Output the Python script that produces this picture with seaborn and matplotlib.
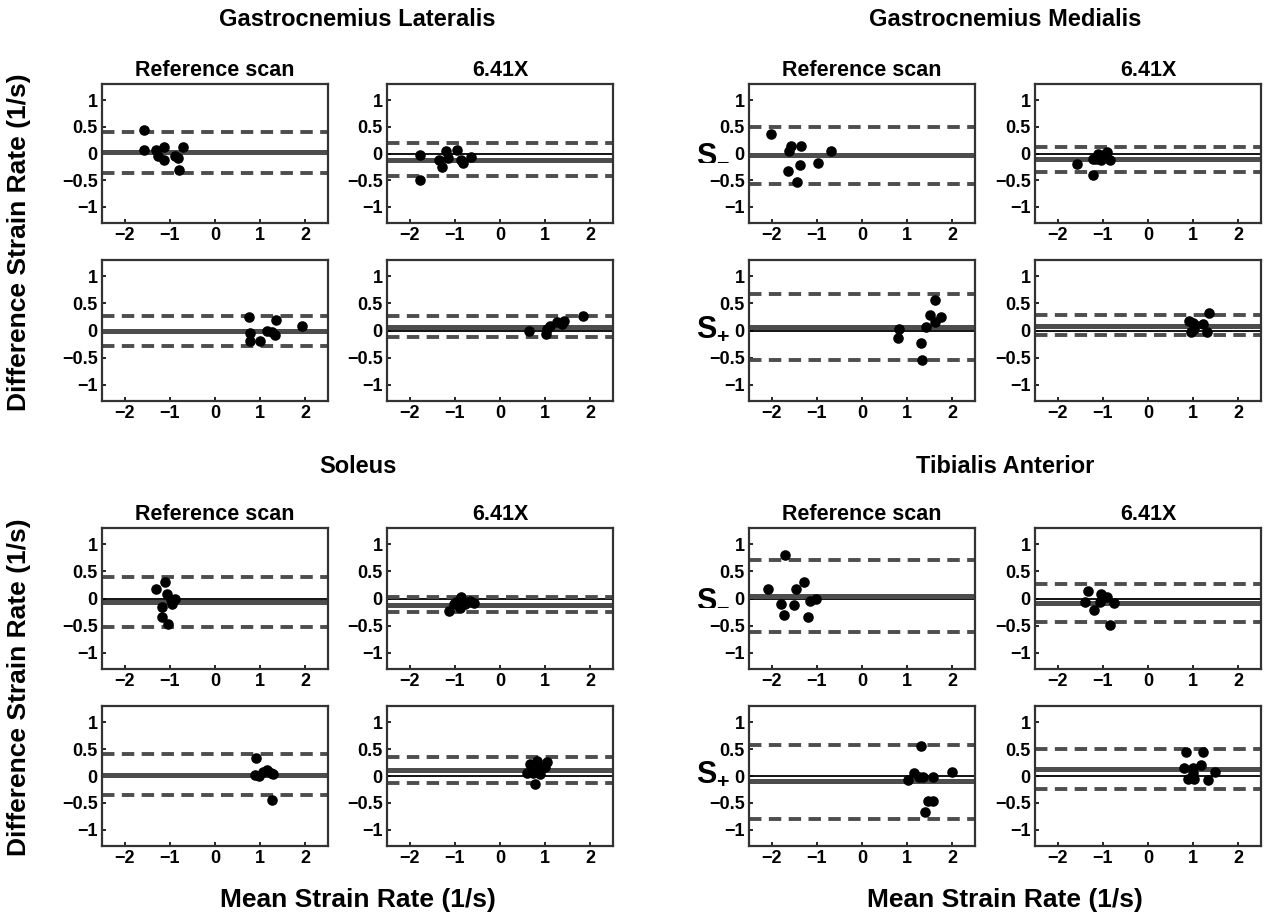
import numpy as np
import pandas as pd
import matplotlib
matplotlib.use("Agg")
import matplotlib.pyplot as plt
import seaborn as sns

# ---------------- data ----------------
muscles = ["Gastrocnemius Lateralis", "Gastrocnemius Medialis", "Soleus", "Tibialis Anterior"]
methods = ["Reference scan", "6.41X"]
signs = ["S-", "S+"]
x_ticks = [-2, -1, 0, 1, 2]
x_tick_labels = ["\u22122", "\u22121", "0", "1", "2"]
y_ticks = [-1, -0.5, 0, 0.5, 1]
y_tick_labels = ["\u22121", "\u22120.5", "0", "0.5", "1"]

# Gastrocnemius Lateralis
gl_ref_neg_x = [-1.56, -1.56, -1.30, -1.13, -1.26, -1.13, -0.89, -0.81, -0.70, -0.79]
gl_ref_neg_y = [0.44, 0.06, 0.07, 0.12, -0.04, -0.13, -0.04, -0.08, 0.12, -0.31]
gl_x_neg_x = [-1.76, -1.78, -1.36, -1.28, -1.20, -1.14, -0.96, -0.87, -0.81, -0.65]
gl_x_neg_y = [-0.02, -0.49, -0.12, -0.25, 0.05, -0.09, 0.07, -0.12, -0.17, -0.06]
gl_ref_pos_x = [0.76, 0.77, 0.77, 0.99, 1.14, 1.27, 1.33, 1.36, 1.93]
gl_ref_pos_y = [0.25, -0.04, -0.19, -0.19, 0.00, -0.03, -0.09, 0.19, 0.09]
gl_x_pos_x = [0.65, 1.01, 1.05, 1.11, 1.27, 1.37, 1.42, 1.83]
gl_x_pos_y = [0.00, -0.06, 0.02, 0.08, 0.15, 0.12, 0.17, 0.27]
gl_mean = [0.02, -0.12, 0.00, 0.07]
gl_upper = [0.41, 0.19, 0.27, 0.27]
gl_lower = [-0.37, -0.43, -0.28, -0.12]

# Gastrocnemius Medialis
gm_ref_neg_x = [-2.01, -1.62, -1.57, -1.36, -1.63, -1.38, -1.43, -0.98, -0.68]
gm_ref_neg_y = [0.37, 0.05, 0.14, 0.14, -0.32, -0.21, -0.53, -0.18, 0.05]
gm_x_neg_x = [-1.56, -1.22, -1.22, -1.11, -1.04, -0.99, -0.91, -0.85, -1.15]
gm_x_neg_y = [-0.20, -0.41, -0.10, -0.01, -0.12, -0.03, 0.03, -0.12, -0.10]
gm_ref_pos_x = [0.82, 0.80, 1.30, 1.33, 1.41, 1.50, 1.61, 1.62, 1.74]
gm_ref_pos_y = [0.03, -0.14, -0.23, -0.54, 0.06, 0.28, 0.56, 0.15, 0.25]
gm_x_pos_x = [0.91, 0.99, 1.05, 0.96, 1.21, 1.30, 1.34, 1.02]
gm_x_pos_y = [0.17, 0.14, 0.10, -0.02, 0.12, -0.03, 0.32, 0.03]
gm_mean = [-0.03, -0.11, 0.07, 0.09]
gm_upper = [0.50, 0.12, 0.68, 0.29]
gm_lower = [-0.57, -0.35, -0.54, -0.09]

# Soleus
so_ref_neg_x = [-1.30, -1.10, -1.06, -0.89, -0.95, -1.17, -0.98, -1.18, -1.04]
so_ref_neg_y = [0.18, 0.31, 0.08, 0.00, -0.10, -0.15, -0.03, -0.35, -0.47]
so_x_neg_x = [-1.12, -0.97, -0.86, -0.89, -0.78, -1.02, -0.67, -0.57, -0.86]
so_x_neg_y = [-0.23, -0.07, 0.03, -0.17, -0.10, -0.10, -0.04, -0.09, -0.12]
so_ref_pos_x = [0.90, 0.88, 0.98, 1.07, 1.16, 1.24, 1.29, 1.27]
so_ref_pos_y = [0.34, 0.01, 0.00, 0.07, 0.11, 0.05, 0.03, -0.45]
so_x_pos_x = [0.60, 0.67, 0.82, 0.78, 0.88, 1.00, 1.04, 0.86, 0.72]
so_x_pos_y = [0.06, 0.22, 0.27, -0.14, 0.04, 0.17, 0.26, 0.15, 0.06]
so_mean = [-0.06, -0.12, 0.025, 0.11]
so_upper = [0.39, 0.035, 0.40, 0.36]
so_lower = [-0.52, -0.25, -0.355, -0.125]

# Tibialis Anterior
ta_ref_neg_x = [-2.08, -1.71, -1.80, -1.72, -1.50, -1.47, -1.28, -1.19, -1.16, -1.02]
ta_ref_neg_y = [0.17, 0.81, -0.10, -0.30, -0.12, 0.17, 0.31, -0.35, -0.05, -0.01]
ta_x_neg_x = [-1.33, -1.39, -1.20, -1.04, -1.07, -0.91, -0.76, -0.84, -1.00]
ta_x_neg_y = [0.14, -0.07, -0.21, 0.09, -0.07, 0.03, -0.08, -0.49, 0.02]
ta_ref_pos_x = [1.02, 1.15, 1.27, 1.35, 1.31, 1.57, 1.47, 1.57, 1.39, 2.00]
ta_ref_pos_y = [-0.08, 0.06, -0.01, -0.01, 0.56, -0.01, -0.47, -0.47, -0.67, 0.07]
ta_x_pos_x = [0.85, 1.22, 0.80, 1.00, 1.17, 0.89, 1.01, 1.00, 1.32, 1.48]
ta_x_pos_y = [0.45, 0.45, 0.15, 0.15, 0.20, -0.06, -0.06, 0.05, -0.07, 0.07]
ta_mean = [0.04, -0.08, -0.10, 0.13]
ta_upper = [0.71, 0.265, 0.58, 0.51]
ta_lower = [-0.61, -0.425, -0.79, -0.25]

# ---------------- assemble for plotting ----------------
panel_points = {
    (0, 0, 0): (gl_ref_neg_x, gl_ref_neg_y), (0, 0, 1): (gl_x_neg_x, gl_x_neg_y),
    (0, 1, 0): (gl_ref_pos_x, gl_ref_pos_y), (0, 1, 1): (gl_x_pos_x, gl_x_pos_y),
    (1, 0, 0): (gm_ref_neg_x, gm_ref_neg_y), (1, 0, 1): (gm_x_neg_x, gm_x_neg_y),
    (1, 1, 0): (gm_ref_pos_x, gm_ref_pos_y), (1, 1, 1): (gm_x_pos_x, gm_x_pos_y),
    (2, 0, 0): (so_ref_neg_x, so_ref_neg_y), (2, 0, 1): (so_x_neg_x, so_x_neg_y),
    (2, 1, 0): (so_ref_pos_x, so_ref_pos_y), (2, 1, 1): (so_x_pos_x, so_x_pos_y),
    (3, 0, 0): (ta_ref_neg_x, ta_ref_neg_y), (3, 0, 1): (ta_x_neg_x, ta_x_neg_y),
    (3, 1, 0): (ta_ref_pos_x, ta_ref_pos_y), (3, 1, 1): (ta_x_pos_x, ta_x_pos_y),
}
stats = {0: (gl_mean, gl_upper, gl_lower), 1: (gm_mean, gm_upper, gm_lower),
         2: (so_mean, so_upper, so_lower), 3: (ta_mean, ta_upper, ta_lower)}

sns.set_style("white")
plt.rcParams['font.family'] = ['Liberation Sans', 'DejaVu Sans']
plt.rcParams['font.weight'] = 'bold'
plt.rcParams['text.color'] = 'black'
plt.rcParams['axes.labelcolor'] = 'black'
plt.rcParams['xtick.color'] = 'black'
plt.rcParams['ytick.color'] = 'black'
plt.rcParams['mathtext.fontset'] = 'custom'
plt.rcParams['mathtext.rm'] = 'Liberation Sans:bold'
plt.rcParams['mathtext.bf'] = 'Liberation Sans:bold'
plt.rcParams['mathtext.it'] = 'Liberation Sans:bold'

W, H = 1265, 922
fig = plt.figure(figsize=(W / 100, H / 100), dpi=100)

col_x = [102, 387, 749, 1035]
col_w = 226
row_y = [(84, 223), (260, 401), (528, 669), (706, 846)]

grey = '#4d4d4d'

for (m, r, c), (xs, ys) in panel_points.items():
    gc, gr = m % 2, m // 2
    pc, pr = 2 * gc + c, 2 * gr + r
    x0 = col_x[pc]
    y0, y1 = row_y[pr]
    ax = fig.add_axes([x0 / W, 1 - y1 / H, col_w / W, (y1 - y0) / H])
    df = pd.DataFrame({"mean": xs, "diff": ys})
    idx = 2 * r + c
    mean, up, lo = stats[m][0][idx], stats[m][1][idx], stats[m][2][idx]
    ax.axhline(0, color='black', lw=1.3, zorder=1)
    ax.axhline(mean, color=grey, lw=3.6, zorder=2)
    ax.axhline(up, color=grey, lw=2.8, ls=(0, (3.2, 1.9)), zorder=2)
    ax.axhline(lo, color=grey, lw=2.8, ls=(0, (3.2, 1.9)), zorder=2)
    sns.scatterplot(data=df, x="mean", y="diff", ax=ax, color='black', s=58,
                    linewidth=0, zorder=3, legend=False)
    ax.set_xlim(-2.5, 2.5)
    ax.set_ylim(-1.3, 1.3)
    ax.set_xticks(x_ticks)
    ax.set_xticklabels(x_tick_labels)
    ax.set_yticks(y_ticks)
    ax.set_yticklabels(y_tick_labels)
    ax.set_xlabel("")
    ax.set_ylabel("")
    ax.tick_params(direction='in', length=3, width=1.2, labelsize=13, pad=3,
                   colors='black', left=True, bottom=True)
    for lab in ax.get_xticklabels() + ax.get_yticklabels():
        lab.set_fontweight('bold')
    for sp in ax.spines.values():
        sp.set_color('#333333')
        sp.set_linewidth(1.6)

    if r == 0:
        fig.text((x0 + col_w / 2) / W, 1 - (y0 - 13) / H, methods[c],
                 ha='center', va='center', fontsize=15.5, fontweight='bold')

# group titles and x labels
for m, name in enumerate(muscles):
    gc, gr = m % 2, m // 2
    cx = (col_x[2 * gc] + col_x[2 * gc + 1] + col_w) / 2
    ty = 20 if gr == 0 else 466
    fig.text(cx / W, 1 - ty / H, name, ha='center', va='center',
             fontsize=17, fontweight='bold')
    if gr == 1:
        fig.text(cx / W, 1 - 900 / H, "Mean Strain Rate (1/s)", ha='center',
                 va='center', fontsize=19, fontweight='bold')

# y labels
for gr in range(2):
    cy = (row_y[2 * gr][0] + row_y[2 * gr + 1][1]) / 2
    fig.text(19 / W, 1 - cy / H, "Difference Strain Rate (1/s)", rotation=90,
             ha='center', va='center', fontsize=19, fontweight='bold')

# S- / S+ labels on the right groups
for gr in range(2):
    for r in range(2):
        y0, y1 = row_y[2 * gr + r]
        lab = r'$\mathbf{S_{-}}$' if r == 0 else r'$\mathbf{S_{+}}$'
        fig.text(696 / W, 1 - ((y0 + y1) / 2 - 2) / H, lab, ha='left', va='center',
                 fontsize=22)

fig.savefig("out.png", dpi=100)
